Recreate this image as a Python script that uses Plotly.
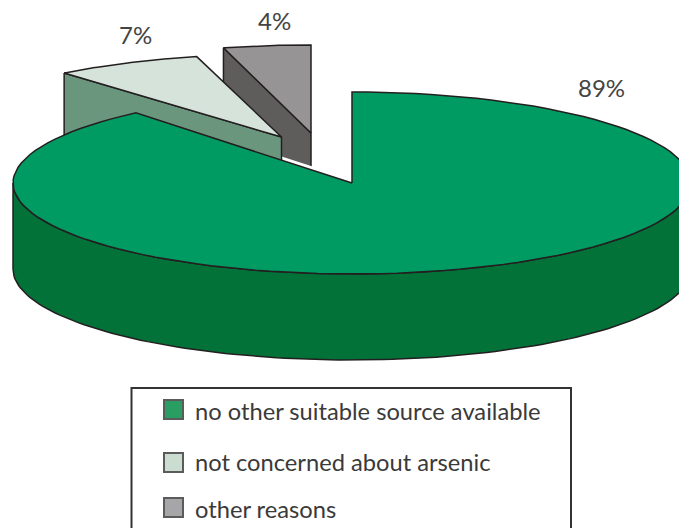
import numpy as np
import plotly.graph_objects as go

# --- data ---
CATEGORIES = ["no other suitable source available", "not concerned about arsenic", "other reasons"]
VALUES = [89, 7, 4]
LABELS = ["89%", "7%", "4%"]

# --- style / layout ---
TOP = ["#009B62", "#D6E3DB", "#969495"]
WALL = ["#037238", "#6B967E", "#5F5D5C"]
SWATCH = ["#2A9E62", "#CBDDD0", "#A6A6A8"]
INK = "#231F20"
W, H = 679, 528
APEX = [(352, 183), (281.5, 137), (311, 133)]
RX = [339, 341, 352]
RY = [91, 83, 88]
DEPTH = [86, 65, 55]
LABEL_POS = [(601, 87), (135, 34), (274, 20)]
LEGEND_Y = [409.5, 462.5, 507.5]
TEXT_Y = [411, 462, 509]


def arc(i, t0, t1, n=120):
    t = np.radians(np.linspace(t0, t1, n))
    ax, ay = APEX[i]
    return ax + RX[i] * np.sin(t), ay - RY[i] * np.cos(t)


total = sum(VALUES)
ends = np.cumsum(VALUES) / total * 360
starts = np.concatenate([[0], ends[:-1]])
fig = go.Figure()


def poly(x, y, fill, lw=1.5):
    fig.add_trace(go.Scatter(x=list(x), y=list(y), mode="lines", fill="toself", fillcolor=fill,
                             line=dict(color=INK, width=lw), hoverinfo="skip", showlegend=False))


def slice_top(i, fill):
    x, y = arc(i, starts[i], ends[i])
    ax, ay = APEX[i]
    poly(np.r_[ax, x, ax], np.r_[ay, y, ay], fill)


def radial_wall(i, fill):
    x, y = arc(i, starts[i], starts[i], 1)
    ax, ay = APEX[i]
    d = DEPTH[i]
    poly([x[0], ax, ax, x[0], x[0]], [y[0], ay, ay + d, y[0] + d, y[0]], fill)


# 4% slice
radial_wall(2, WALL[2])
slice_top(2, TOP[2])

# white gap along the main slice's cut edge
ex, ey = arc(0, ends[0], ends[0], 1)
fig.add_trace(go.Scatter(x=[ex[0], APEX[0][0]], y=[ey[0] - 1.5, APEX[0][1] - 1.5], mode="lines",
                         line=dict(color="white", width=4), hoverinfo="skip", showlegend=False))

# 7% slice
radial_wall(1, WALL[1])
slice_top(1, TOP[1])

# 89% slice: front wall then top
fx, fy = arc(0, 90, 270)
poly(np.r_[fx, fx[::-1], fx[0]], np.r_[fy, fy[::-1] + DEPTH[0], fy[0]], WALL[0])
slice_top(0, TOP[0])

# legend swatches
fig.add_trace(go.Scatter(x=[173.5] * 3, y=LEGEND_Y, mode="markers", hoverinfo="skip", showlegend=False,
                         marker=dict(symbol="square", size=19, color=SWATCH,
                                     line=dict(color="#5B5B5B", width=2))))

annotations = []
for (lx, ly), t in zip(LABEL_POS, LABELS):
    annotations.append(dict(x=lx, y=ly, text=t, showarrow=False, xanchor="center", yanchor="middle",
                            font=dict(family="Lato", size=24, color="#444444")))
for y, t in zip(TEXT_Y, CATEGORIES):
    annotations.append(dict(x=192.5, y=y, text=t, showarrow=False, xanchor="left", yanchor="middle",
                            font=dict(family="Lato", size=23.7, color="#3A3A3A")))

fig.update_layout(
    width=W, height=H, margin=dict(l=0, r=0, t=0, b=0),
    paper_bgcolor="white", plot_bgcolor="white",
    xaxis=dict(range=[0, W], visible=False, fixedrange=True),
    yaxis=dict(range=[H, 0], visible=False, fixedrange=True),
    annotations=annotations,
    shapes=[dict(type="rect", xref="x", yref="y", x0=131.5, x1=571, y0=388, y1=560,
                 line=dict(color="#333333", width=2))],
)
fig.write_html("out.html", config={"displayModeBar": False},
               post_script="document.body.style.margin='0';document.body.style.overflow='hidden';")
